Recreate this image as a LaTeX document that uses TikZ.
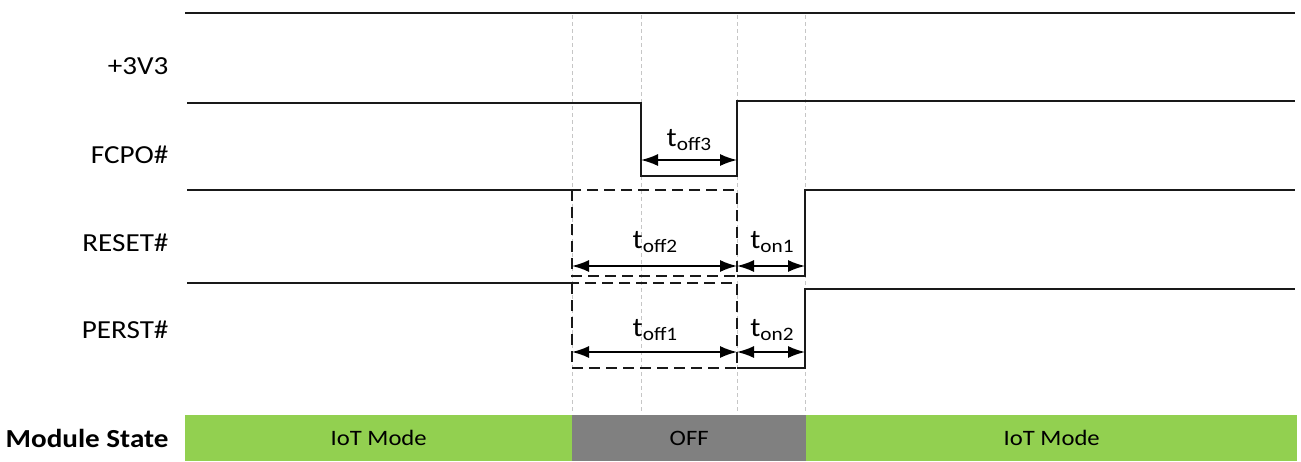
\documentclass[tikz,border=0pt]{standalone}
\usepackage{fontspec}
\setmainfont{Carlito}[FakeStretch=1.12]
\usetikzlibrary{arrows.meta}
\definecolor{iotgreen}{HTML}{92D050}
\definecolor{offgray}{HTML}{808080}
\newcommand{\tsub}[2]{#1\raisebox{-0.35ex}{\fontsize{19}{19}\selectfont #2}}

\begin{document}
\begin{tikzpicture}[x=1pt, y=-1pt,
  every node/.style={font=\fontsize{26}{26}\selectfont},
  sig/.style={line width=1.9pt, black!90},
  hidden/.style={line width=1.6pt, black!90, dash pattern=on 11pt off 6pt},
  guide/.style={gray!45, line width=0.8pt, dash pattern=on 4pt off 3pt},
  span/.style={{Latex[length=17pt,width=12pt]}-{Latex[length=17pt,width=12pt]}, line width=1.6pt},
  tlabel/.style={font=\fontsize{27}{27}\selectfont, inner sep=0pt},
  state/.style={minimum height=46pt, inner sep=0pt, anchor=north west,
                font=\fontsize{22}{22}\selectfont}]
  \useasboundingbox (0,0) rectangle (1301,461);

  % time marks
  \foreach \x in {572,641,737,805}
    \draw[guide] (\x,15) -- (\x,413);

  % signal names
  \node[anchor=east] (v33)   at (172,66)  {+3V3};
  \node[anchor=east] (fcpo)  at (172,155) {FCPO\#};
  \node[anchor=east] (reset) at (172,243) {RESET\#};
  \node[anchor=east] (perst) at (172,330) {PERST\#};

  % waveforms
  \draw[sig] (185,13) -- (1295,13);
  \draw[sig] (187,103) -- (641,103) -- (641,176) -- (737,176) -- (737,101) -- (1295,101);
  \draw[sig] (187,190) -- (572,190);
  \draw[hidden] (572,190) rectangle (737,276);
  \draw[sig] (737,276) -- (805,276) -- (805,190) -- (1295,190);
  \draw[sig] (187,283) -- (572,283);
  \draw[hidden] (572,283) rectangle (737,368);
  \draw[sig] (737,368) -- (805,368) -- (805,289) -- (1295,289);

  % timing spans
  \coordinate (f3a) at (641,160);
  \coordinate (f3b) at (737,160);
  \coordinate (r2a) at (572,266);
  \coordinate (r2b) at (737,266);
  \coordinate (r2c) at (805,266);
  \coordinate (p1a) at (572,352);
  \coordinate (p1b) at (737,352);
  \coordinate (p1c) at (805,352);
  \draw[span] (f3a) -- (f3b);
  \draw[span] (r2a) -- (r2b);
  \draw[span] (r2b) -- (r2c);
  \draw[span] (p1a) -- (p1b);
  \draw[span] (p1b) -- (p1c);
  \node[tlabel] (toff3) at (689,140) {\tsub{t}{off3}};
  \node[tlabel] (toff2) at (655,242) {\tsub{t}{off2}};
  \node[tlabel] (ton1)  at (772,242) {\tsub{t}{on1}};
  \node[tlabel] (toff1) at (655,330) {\tsub{t}{off1}};
  \node[tlabel] (ton2)  at (772,330) {\tsub{t}{on2}};

  % module state bar
  \node[anchor=east, font=\fontsize{26}{26}\selectfont\bfseries] (mstate) at (172,438) {Module State};
  \node[state, fill=iotgreen, minimum width=387pt] (iot1) at (185,415) {IoT Mode};
  \node[state, fill=offgray, minimum width=234pt] (off) at (572,415) {OFF};
  \node[state, fill=iotgreen, minimum width=491pt] (iot2) at (806,415) {IoT Mode};
\end{tikzpicture}
\end{document}
